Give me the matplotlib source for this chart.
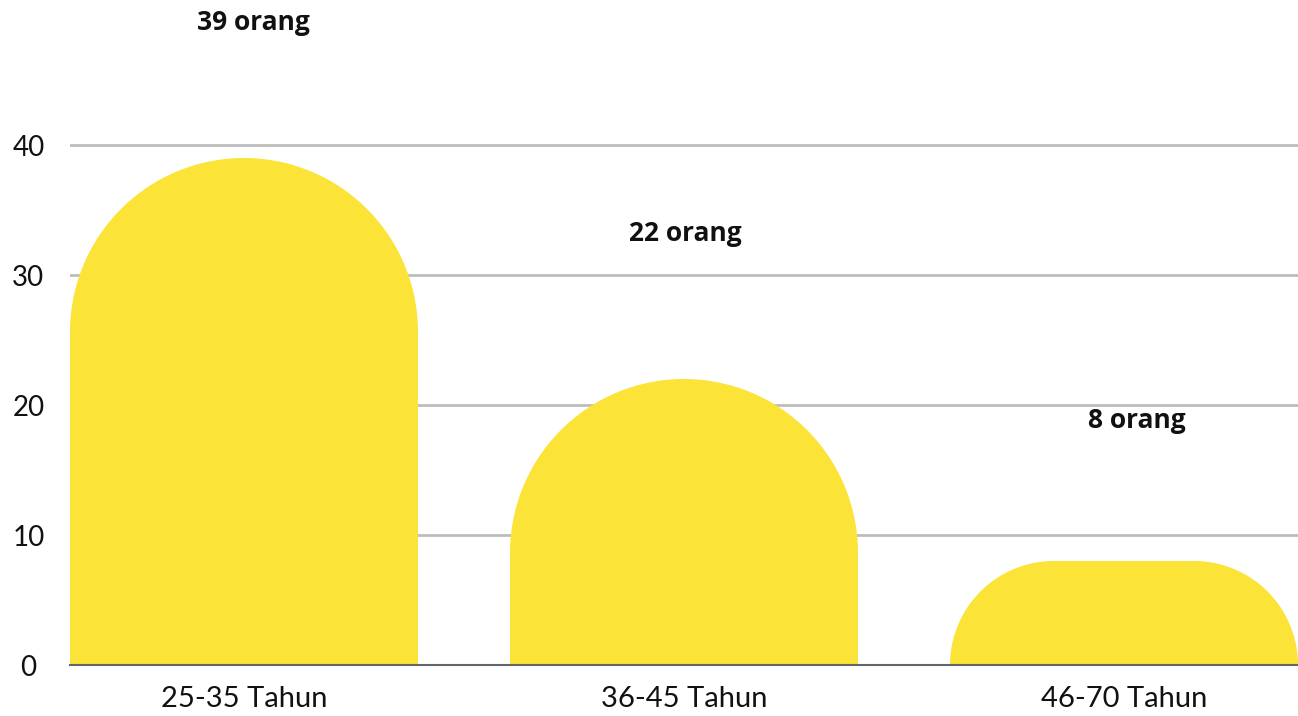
import matplotlib
matplotlib.use("Agg")
import matplotlib.pyplot as plt
from matplotlib.path import Path
from matplotlib.patches import PathPatch
import numpy as np

plt.rcParams['font.family'] = ['Lato', 'DejaVu Sans']

categories = ["25-35 Tahun", "36-45 Tahun", "46-70 Tahun"]
values = [39, 22, 8]
labels = ["39 orang", "22 orang", "8 orang"]
yticks = [0, 10, 20, 30, 40]

bar_color = "#FBE338"
W, H, DPI = 1298, 716, 100

fig = plt.figure(figsize=(W / DPI, H / DPI), dpi=DPI)
ax_left, ax_right = 70 / W, 1.0
ax_bottom = (H - 665) / H
ymax = 50.5
ax_top = (H - (665 - ymax * 13)) / H
ax = fig.add_axes([ax_left, ax_bottom, ax_right - ax_left, ax_top - ax_bottom])

half = 174 / 440
ax.set_xlim(-half, 2 + half)
ax.set_ylim(0, ymax)
width = 348 / 440

# pixel per data unit
px_x = (W * (ax_right - ax_left)) / (2 + 2 * half)
px_y = (H * (ax_top - ax_bottom)) / ymax


def rounded_bar(xc, h, w):
    wpx, hpx = w * px_x, h * px_y
    r = min(wpx / 2, hpx)
    rx, ry = r / px_x, r / px_y
    x0, x1 = xc - w / 2, xc + w / 2
    t = np.linspace(np.pi, np.pi / 2, 40)
    left = np.column_stack([x0 + rx + rx * np.cos(t), h - ry + ry * np.sin(t)])
    t2 = np.linspace(np.pi / 2, 0, 40)
    right = np.column_stack([x1 - rx + rx * np.cos(t2), h - ry + ry * np.sin(t2)])
    pts = np.vstack([[x0, 0], left, right, [x1, 0], [x0, 0]])
    codes = [Path.MOVETO] + [Path.LINETO] * (len(pts) - 2) + [Path.CLOSEPOLY]
    return PathPatch(Path(pts, codes), facecolor=bar_color, edgecolor="none", zorder=2)


for i, v in enumerate(values):
    ax.add_patch(rounded_bar(i, v, width))

# small nudges (pixels) so labels sit where the original had them
label_dx = [9, 1, 13]
label_dy = [-5, 5, 0]
for i, (v, lab) in enumerate(zip(values, labels)):
    ax.text(i + label_dx[i] / px_x, v + 10.8 + label_dy[i] / px_y, lab,
            ha="center", va="center", fontsize=19, fontweight="bold",
            color="#111111", family=["Open Sans", "DejaVu Sans"])

ax.set_yticks(yticks)
ax.set_xticks(range(len(categories)))
ax.set_xticklabels(categories)
ax.tick_params(axis="both", length=0, colors="#111111")
ax.tick_params(axis="y", labelsize=20, pad=30)
ax.tick_params(axis="x", labelsize=21, pad=15)
for t in ax.get_yticklabels():
    t.set_horizontalalignment("center")

ax.grid(axis="y", color="#BDBDBD", linewidth=2, zorder=0)
ax.set_axisbelow(True)
for s in ["top", "right", "left"]:
    ax.spines[s].set_visible(False)
ax.spines["bottom"].set_color("#666666")
ax.spines["bottom"].set_linewidth(1.5)
ax.spines["bottom"].set_zorder(3)

fig.savefig("out.png", dpi=DPI)
